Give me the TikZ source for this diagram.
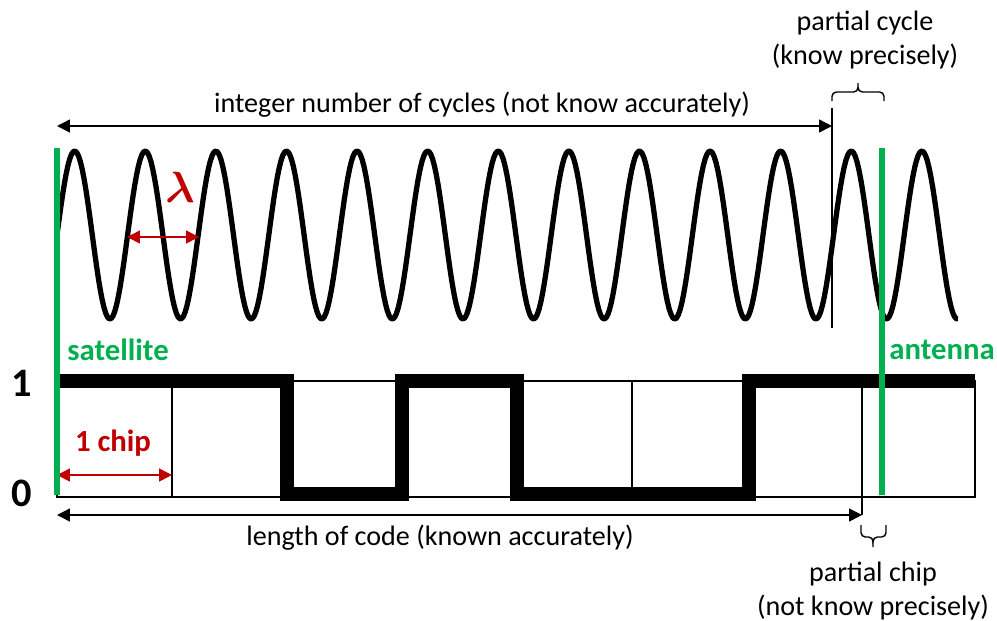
\documentclass[tikz,border=0pt]{standalone}
\usepackage{amsmath}
\usepackage{fontspec}
\setmainfont{Carlito}
\usetikzlibrary{arrows.meta}
\definecolor{satgreen}{HTML}{00B050}
\definecolor{chipred}{HTML}{C00000}

\begin{document}
\begin{tikzpicture}[x=0.02cm, y=-0.02cm,
    wave/.style={line width=3pt, line join=round},
    marker/.style={line width=3.4pt, draw=satgreen},
    hairline/.style={line width=0.8pt},
    chipline/.style={line width=7.8pt},
    span/.style={hairline, {Triangle[length=2.6mm, width=2.6mm]}-{Triangle[length=2.6mm, width=2.6mm]}},
    redspan/.style={line width=0.9pt, draw=chipred, {Triangle[length=2.6mm, width=2.6mm]}-{Triangle[length=2.6mm, width=2.6mm]}},
    bracket/.style={hairline, rounded corners=2.5},
    txt/.style={font=\fontsize{16}{19}\selectfont, inner sep=0pt, align=center},
    tag/.style={font=\fontsize{17.5}{20}\selectfont\bfseries, inner sep=0pt},
    level/.style={font=\fontsize{23}{26}\selectfont\bfseries, inner sep=0pt},
    greek/.style={text=chipred, inner sep=0pt, font=\fontsize{24}{26}\selectfont}
]
    \useasboundingbox (0,0) rectangle (997,620);
    \def\period{70.6}
    % Carrier wave
    \draw[wave] plot[domain=57:958, samples=500] (\x, {235 - 84*sin((\x-57)/\period*360)});
    % Code chips
    \draw[hairline] (57,381) rectangle (975,497);
    \foreach \x in {172, 632} {
        \draw[hairline] (\x,381) -- (\x,497);
    }
    \draw[chipline] (57,381) -- (287,381) -- (287,494) -- (402,494) -- (402,381)
        -- (517,381) -- (517,494) -- (749,494) -- (749,381) -- (975,381);
    % Ends of the ranges
    \coordinate (cycL) at (57,126);
    \coordinate (cycR) at (832,126);
    \coordinate (cycTop) at (832,108);
    \coordinate (cycBot) at (832,328);
    \coordinate (codeL) at (57,515);
    \coordinate (codeR) at (862,515);
    \coordinate (codeTop) at (862,381);
    \coordinate (lamL) at (127,237);
    \coordinate (lamR) at (199,237);
    \coordinate (chipL) at (57,475);
    \coordinate (chipR) at (172,475);
    \coordinate (satTop) at (57,148);
    \coordinate (satBot) at (57,495);
    \coordinate (antTop) at (882,148);
    \coordinate (antBot) at (882,495);
    % Labels
    \node[txt] (cycles) at (482,105) {integer number of cycles (not know accurately)};
    \node[txt] (pcycle) at (865,40) {partial cycle\\(know precisely)};
    \node[txt] (length) at (440,538) {length of code (known accurately)};
    \node[txt] (pchip) at (873,591) {partial chip\\(not know precisely)};
    \node[tag, text=satgreen, anchor=west] (sat) at (67,350) {satellite};
    \node[tag, text=satgreen, anchor=west] (ant) at (889,350) {antenna};
    \node[tag, text=chipred] (chip) at (113,443) {1 chip};
    \node[level] (one) at (22,383) {1};
    \node[level] (zero) at (22,493) {0};
    \node[greek] (lam) at (180,187) {$\boldsymbol{\lambda}$};
    % Ranges
    \draw[span] (cycL) -- (cycR);
    \draw[hairline] (cycTop) -- (cycBot);
    \draw[bracket] (832,101) |- (858,92) -- (858,83);
    \draw[bracket] (858,87) |- (884,92) -- (884,101);
    \draw[span] (codeL) -- (codeR);
    \draw[hairline] (codeTop) -- (codeR);
    \draw[bracket] (861,525) |- (873,537) -- (873,547);
    \draw[bracket] (873,541) |- (886,537) -- (886,525);
    \draw[redspan] (lamL) -- (lamR);
    \draw[redspan] (chipL) -- (chipR);
    % Satellite and antenna
    \draw[marker] (satTop) -- (satBot);
    \draw[marker] (antTop) -- (antBot);
\end{tikzpicture}
\end{document}
